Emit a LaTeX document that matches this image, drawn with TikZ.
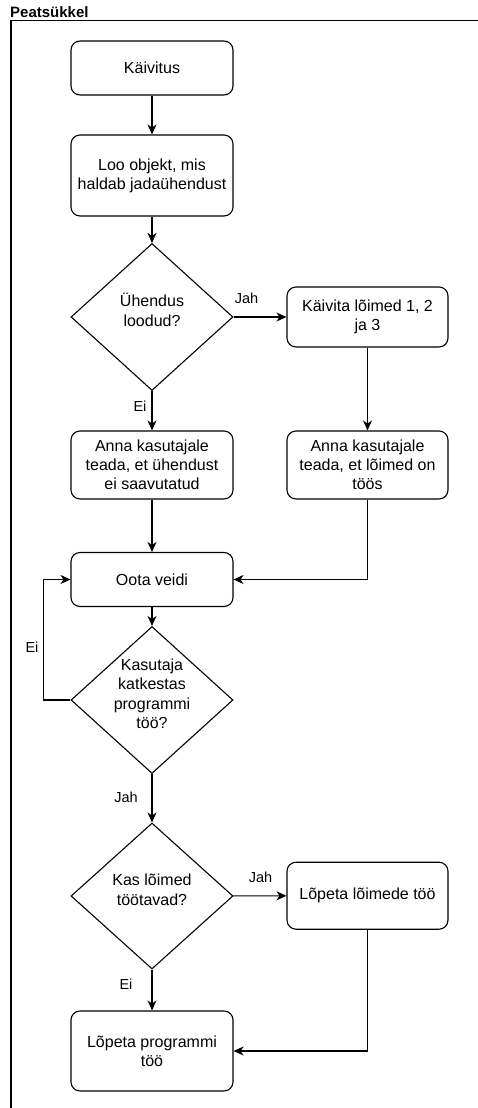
\documentclass[tikz,border=0pt]{standalone}
\usepackage{fontspec}
\setmainfont{Liberation Sans}
\usetikzlibrary{arrows.meta,shapes.geometric}
\newcommand{\zbox}[1]{\smash{\makebox[0pt][c]{\begin{tabular}{@{}c@{}}#1\end{tabular}}}}
\tikzset{
  proc/.style={draw=black, line width=1.1pt, rounded corners=9pt, fill=white,
    align=center, inner sep=0pt, font=\fontsize{16}{19.2}\selectfont},
  decis/.style={draw=black, line width=1.1pt, diamond, fill=white, inner sep=0pt,
    minimum width=162pt, minimum height=147pt, font=\fontsize{16}{19.2}\selectfont},
  conn/.style={draw=black, line width=1.1pt, -{Stealth[length=10pt,width=9pt,inset=3pt]}},
  lbl/.style={font=\fontsize{14.5}{17}\selectfont, inner sep=0pt},
}
\begin{document}
\begin{tikzpicture}[x=1pt,y=-1pt]
\useasboundingbox (0,0) rectangle (478,1108);
% frame
\draw[line width=1.1pt] (11,1110) -- (11,20.5) -- (480,20.5);
\node[anchor=base west, inner sep=0pt, font=\fontsize{15}{18}\selectfont\bfseries] (title) at (10,18) {Peatsükkel};
% nodes
\node[proc, minimum width=162pt, minimum height=54pt] (start) at (152,68) {Käivitus};
\node[proc, minimum width=162pt, minimum height=81pt] (create) at (152,175.5) {Loo objekt, mis\\haldab jadaühendust};
\node[decis] (d1) at (152,317) {\zbox{Ühendus\\loodud?}};
\node[proc, minimum width=161pt, minimum height=60pt] (threads) at (367.5,317) {Käivita lõimed 1, 2\\ja 3};
\node[proc, minimum width=162pt, minimum height=68pt] (failmsg) at (152,465) {Anna kasutajale\\teada, et ühendust\\ei saavutatud};
\node[proc, minimum width=161pt, minimum height=68pt] (okmsg) at (367.5,465) {Anna kasutajale\\teada, et lõimed on\\töös};
\node[proc, minimum width=162pt, minimum height=54pt] (wait) at (152,579.5) {Oota veidi};
\node[decis] (d2) at (152,700) {\zbox{Kasutaja\\katkestas\\programmi\\töö?}};
\node[decis, minimum height=146pt] (d3) at (152,896) {\zbox{Kas lõimed\\töötavad?}};
\node[proc, minimum width=161pt, minimum height=67pt] (stopthreads) at (367.5,895.7) {Lõpeta lõimede töö};
\node[proc, minimum width=162pt, minimum height=80pt] (stopprog) at (152,1051) {Lõpeta programmi\\töö};
% connectors
\draw[conn] (start) -- (create);
\draw[conn] (create) -- (d1);
\draw[conn] (d1) -- (threads);
\draw[conn] (d1) -- (failmsg);
\draw[conn] (threads) -- (okmsg);
\draw[conn] (failmsg) -- (wait);
\draw[conn] (okmsg.south) |- (wait.east);
\draw[conn] (wait) -- (d2);
\draw[conn] (d2.west) -- ++(-27,0) |- (wait.west);
\draw[conn] (d2) -- (d3);
\draw[conn] (d3) -- (stopthreads);
\draw[conn] (d3) -- (stopprog);
\draw[conn] (stopthreads.south) |- (stopprog.east);
% labels
\node[lbl] (l1) at (246.5,298) {Jah};
\node[lbl, fill=white, inner sep=1pt] (l2) at (140,406) {Ei};
\node[lbl] (l3) at (32,647) {Ei};
\node[lbl] (l4) at (126,797) {Jah};
\node[lbl] (l5) at (260.5,877) {Jah};
\node[lbl] (l6) at (126,984) {Ei};
\end{tikzpicture}
\end{document}
